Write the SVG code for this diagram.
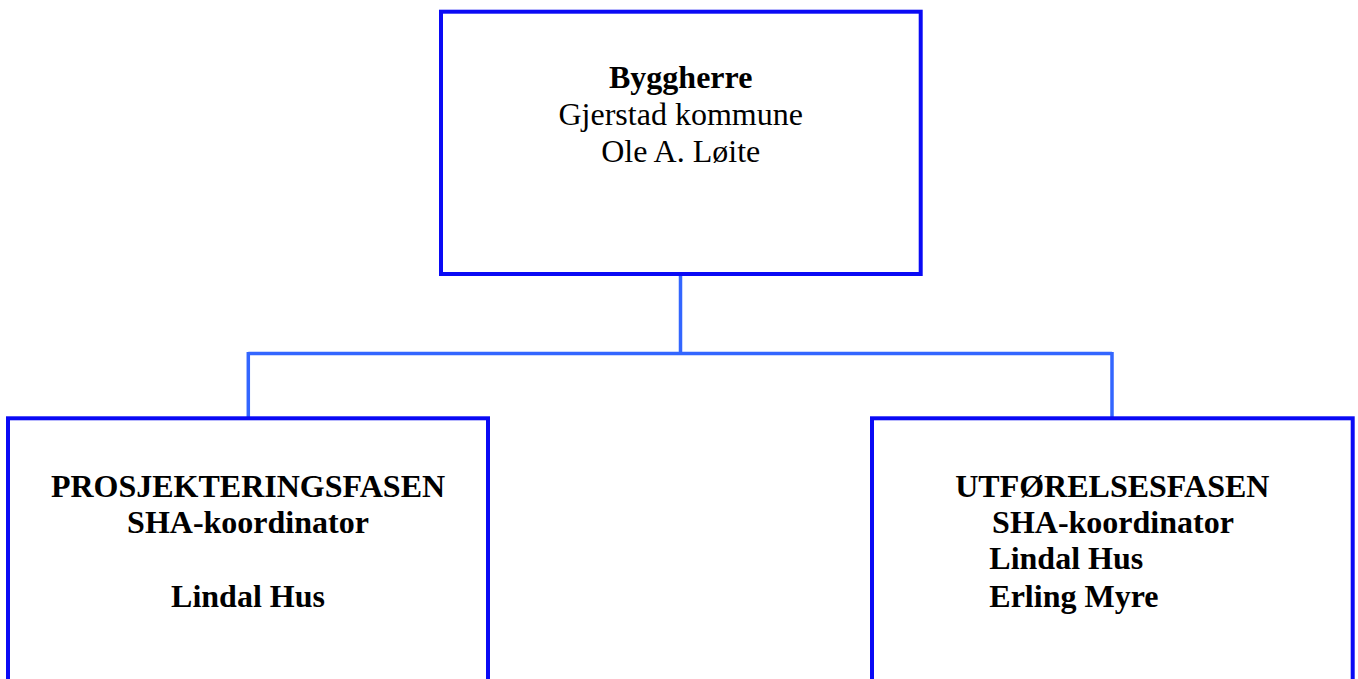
<svg xmlns="http://www.w3.org/2000/svg" width="1358" height="679" viewBox="0 0 1358 679">
<style>
.box{fill:#fff;stroke:#0a0af5;stroke-width:4}
.con{fill:none;stroke:#3366ff;stroke-width:3.5}
text{font-family:"Liberation Serif","Times New Roman",serif;font-size:32px;fill:#000}
.b{font-weight:bold}
</style>
<rect width="1358" height="679" fill="#fff"/>
<g id="connectors">
<path class="con" d="M680.5 276 V353.5 M248.3 353.5 H1112 M248.3 352 V417 M1112 352 V417"/>
</g>
<g id="byggherre">
<rect class="box" x="441" y="11.7" width="479.7" height="262.3"/>
<text x="680.7" y="88.3" text-anchor="middle" class="b">Byggherre</text>
<text x="680.7" y="125" text-anchor="middle">Gjerstad kommune</text>
<text x="680.7" y="161.7" text-anchor="middle">Ole A. Løite</text>
</g>
<g id="prosjektering">
<rect class="box" x="8" y="418.3" width="480" height="300"/>
<text x="248" y="496.7" text-anchor="middle" class="b">PROSJEKTERINGSFASEN</text>
<text x="248" y="532.7" text-anchor="middle" class="b">SHA-koordinator</text>
<text x="248" y="606.7" text-anchor="middle" class="b">Lindal Hus</text>
</g>
<g id="utforelse">
<rect class="box" x="872" y="418.3" width="480.7" height="300"/>
<text x="1112.3" y="496.7" text-anchor="middle" class="b">UTFØRELSESFASEN</text>
<text x="1113" y="532.7" text-anchor="middle" class="b">SHA-koordinator</text>
<text x="989.3" y="569.3" class="b">Lindal Hus</text>
<text x="989.3" y="606.7" class="b">Erling Myre</text>
</g>
</svg>
